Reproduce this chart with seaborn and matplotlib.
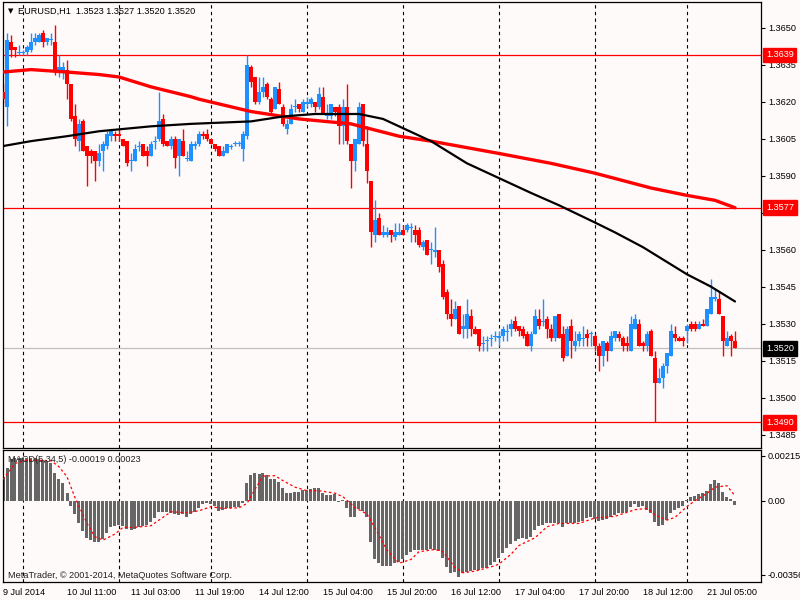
import numpy as np
import matplotlib
matplotlib.use("Agg")
import matplotlib.pyplot as plt
import matplotlib.transforms as mtransforms
import seaborn as sns


# ==========================================
# CHART DATA (EURUSD H1)
# ==========================================

open_prices = [
    1.3624, 1.3618, 1.3644, 1.3642, 1.3640, 1.3640, 1.3640, 1.3641, 1.3644, 1.3644,
    1.3648, 1.3644, 1.3645, 1.3644, 1.3632, 1.3632, 1.3633, 1.3627, 1.3614, 1.3604,
    1.3612, 1.3602, 1.3600, 1.3600, 1.3596, 1.3600, 1.3602, 1.3606, 1.3607, 1.3607,
    1.3605, 1.3604, 1.3596, 1.3596, 1.3602, 1.3603, 1.3600, 1.3598, 1.3604, 1.3605,
    1.3613, 1.3604, 1.3602, 1.3605, 1.3598, 1.3604, 1.3597, 1.3596, 1.3602, 1.3603,
    1.3607, 1.3607, 1.3605, 1.3603, 1.3602, 1.3598, 1.3599, 1.3602, 1.3603, 1.3603,
    1.3601, 1.3606, 1.3634, 1.3630, 1.3620, 1.3624, 1.3627, 1.3621, 1.3617, 1.3625,
    1.3618, 1.3609, 1.3611, 1.3618, 1.3619, 1.3616, 1.3619, 1.3619, 1.3620, 1.3618,
    1.3622, 1.3614, 1.3614, 1.3618, 1.3618, 1.3610, 1.3618, 1.3603, 1.3596, 1.3603,
    1.3619, 1.3603, 1.3588, 1.3566, 1.3573, 1.3566, 1.3566, 1.3568, 1.3565, 1.3566,
    1.3568, 1.3568, 1.3569, 1.3568, 1.3568, 1.3561, 1.3564, 1.3560, 1.3559, 1.3560,
    1.3554, 1.3543, 1.3534, 1.3532, 1.3537, 1.3528, 1.3528, 1.3533, 1.3528, 1.3528,
    1.3522, 1.3523, 1.3524, 1.3525, 1.3524, 1.3525, 1.3527, 1.3528, 1.3531, 1.3529,
    1.3528, 1.3526, 1.3521, 1.3526, 1.3532, 1.3531, 1.3532, 1.3528, 1.3524, 1.3534,
    1.3526, 1.3517, 1.3529, 1.3521, 1.3523, 1.3524, 1.3526, 1.3526, 1.3525, 1.3521,
    1.3517, 1.3522, 1.3519, 1.3524, 1.3526, 1.3524, 1.3522, 1.3519, 1.3528, 1.3530,
    1.3522, 1.3521, 1.3527, 1.3516, 1.3506, 1.3508, 1.3513, 1.3517, 1.3526, 1.3524,
    1.3524, 1.3527, 1.3530, 1.3530, 1.3528, 1.3530, 1.3529, 1.3534, 1.3540, 1.3540,
    1.3533, 1.3521, 1.3525, 1.3523,
]

high_prices = [
    1.3627, 1.3648, 1.3647, 1.3642, 1.3643, 1.3641, 1.3643, 1.3648, 1.3648, 1.3648,
    1.3649, 1.3646, 1.3648, 1.3651, 1.3639, 1.3636, 1.3637, 1.3627, 1.3619, 1.3613,
    1.3613, 1.3602, 1.3601, 1.3600, 1.3603, 1.3604, 1.3608, 1.3609, 1.3608, 1.3609,
    1.3605, 1.3604, 1.3599, 1.3603, 1.3604, 1.3603, 1.3602, 1.3604, 1.3606, 1.3624,
    1.3615, 1.3604, 1.3606, 1.3606, 1.3605, 1.3609, 1.3600, 1.3604, 1.3604, 1.3608,
    1.3608, 1.3609, 1.3605, 1.3603, 1.3602, 1.3602, 1.3603, 1.3603, 1.3604, 1.3604,
    1.3608, 1.3639, 1.3635, 1.3630, 1.3630, 1.3630, 1.3628, 1.3622, 1.3626, 1.3628,
    1.3619, 1.3613, 1.3619, 1.3621, 1.3619, 1.3621, 1.3622, 1.3622, 1.3620, 1.3626,
    1.3626, 1.3619, 1.3619, 1.3618, 1.3619, 1.3621, 1.3627, 1.3603, 1.3605, 1.3620,
    1.3619, 1.3610, 1.3588, 1.3580, 1.3575, 1.3570, 1.3569, 1.3568, 1.3571, 1.3571,
    1.3570, 1.3571, 1.3571, 1.3570, 1.3569, 1.3564, 1.3564, 1.3563, 1.3569, 1.3560,
    1.3556, 1.3544, 1.3540, 1.3539, 1.3537, 1.3534, 1.3540, 1.3536, 1.3529, 1.3528,
    1.3525, 1.3525, 1.3526, 1.3527, 1.3527, 1.3529, 1.3530, 1.3532, 1.3533, 1.3529,
    1.3529, 1.3527, 1.3527, 1.3536, 1.3536, 1.3540, 1.3533, 1.3530, 1.3533, 1.3534,
    1.3529, 1.3529, 1.3532, 1.3527, 1.3527, 1.3529, 1.3528, 1.3527, 1.3526, 1.3522,
    1.3523, 1.3523, 1.3527, 1.3527, 1.3527, 1.3525, 1.3525, 1.3533, 1.3534, 1.3532,
    1.3523, 1.3527, 1.3528, 1.3519, 1.3512, 1.3514, 1.3518, 1.3530, 1.3529, 1.3525,
    1.3525, 1.3530, 1.3531, 1.3531, 1.3531, 1.3532, 1.3536, 1.3548, 1.3544, 1.3543,
    1.3533, 1.3527, 1.3526, 1.3527,
]

low_prices = [
    1.3619, 1.3610, 1.3638, 1.3638, 1.3639, 1.3639, 1.3639, 1.3640, 1.3643, 1.3644,
    1.3642, 1.3643, 1.3643, 1.3631, 1.3630, 1.3629, 1.3621, 1.3612, 1.3602, 1.3600,
    1.3600, 1.3586, 1.3595, 1.3588, 1.3594, 1.3592, 1.3601, 1.3604, 1.3604, 1.3604,
    1.3602, 1.3594, 1.3592, 1.3596, 1.3600, 1.3598, 1.3594, 1.3598, 1.3601, 1.3604,
    1.3602, 1.3602, 1.3601, 1.3593, 1.3590, 1.3598, 1.3596, 1.3596, 1.3601, 1.3602,
    1.3605, 1.3604, 1.3603, 1.3600, 1.3598, 1.3598, 1.3599, 1.3601, 1.3602, 1.3602,
    1.3596, 1.3605, 1.3626, 1.3619, 1.3619, 1.3622, 1.3621, 1.3615, 1.3617, 1.3619,
    1.3610, 1.3607, 1.3611, 1.3616, 1.3616, 1.3616, 1.3618, 1.3618, 1.3616, 1.3617,
    1.3615, 1.3613, 1.3613, 1.3614, 1.3603, 1.3603, 1.3603, 1.3585, 1.3592, 1.3603,
    1.3602, 1.3587, 1.3561, 1.3563, 1.3566, 1.3565, 1.3565, 1.3563, 1.3564, 1.3566,
    1.3566, 1.3567, 1.3563, 1.3563, 1.3561, 1.3560, 1.3558, 1.3554, 1.3557, 1.3551,
    1.3540, 1.3532, 1.3529, 1.3532, 1.3526, 1.3524, 1.3524, 1.3525, 1.3526, 1.3519,
    1.3519, 1.3519, 1.3521, 1.3523, 1.3521, 1.3523, 1.3523, 1.3525, 1.3527, 1.3525,
    1.3524, 1.3521, 1.3519, 1.3526, 1.3528, 1.3529, 1.3524, 1.3523, 1.3523, 1.3524,
    1.3515, 1.3517, 1.3516, 1.3519, 1.3521, 1.3521, 1.3521, 1.3521, 1.3519, 1.3511,
    1.3513, 1.3515, 1.3519, 1.3523, 1.3523, 1.3519, 1.3519, 1.3519, 1.3528, 1.3521,
    1.3519, 1.3519, 1.3517, 1.3490, 1.3506, 1.3504, 1.3510, 1.3517, 1.3523, 1.3523,
    1.3521, 1.3522, 1.3527, 1.3527, 1.3528, 1.3529, 1.3529, 1.3534, 1.3539, 1.3534,
    1.3517, 1.3521, 1.3517, 1.3520,
]

close_prices = [
    1.3621, 1.3645, 1.3641, 1.3641, 1.3640, 1.3640, 1.3642, 1.3644, 1.3646, 1.3647,
    1.3644, 1.3646, 1.3645, 1.3632, 1.3634, 1.3634, 1.3627, 1.3613, 1.3605, 1.3611,
    1.3600, 1.3598, 1.3598, 1.3596, 1.3599, 1.3603, 1.3607, 1.3608, 1.3606, 1.3606,
    1.3602, 1.3595, 1.3596, 1.3601, 1.3602, 1.3598, 1.3598, 1.3603, 1.3604, 1.3612,
    1.3603, 1.3602, 1.3605, 1.3597, 1.3605, 1.3598, 1.3597, 1.3603, 1.3603, 1.3607,
    1.3606, 1.3605, 1.3603, 1.3601, 1.3598, 1.3600, 1.3603, 1.3602, 1.3603, 1.3603,
    1.3607, 1.3635, 1.3628, 1.3620, 1.3624, 1.3626, 1.3622, 1.3616, 1.3626, 1.3619,
    1.3611, 1.3611, 1.3617, 1.3618, 1.3617, 1.3620, 1.3620, 1.3621, 1.3618, 1.3623,
    1.3615, 1.3615, 1.3619, 1.3616, 1.3610, 1.3618, 1.3604, 1.3596, 1.3605, 1.3618,
    1.3604, 1.3592, 1.3567, 1.3572, 1.3566, 1.3567, 1.3567, 1.3566, 1.3567, 1.3567,
    1.3566, 1.3570, 1.3569, 1.3566, 1.3562, 1.3563, 1.3558, 1.3560, 1.3560, 1.3553,
    1.3541, 1.3534, 1.3532, 1.3536, 1.3526, 1.3529, 1.3534, 1.3528, 1.3526, 1.3521,
    1.3522, 1.3523, 1.3524, 1.3525, 1.3525, 1.3528, 1.3527, 1.3530, 1.3528, 1.3527,
    1.3525, 1.3521, 1.3526, 1.3533, 1.3529, 1.3531, 1.3528, 1.3524, 1.3533, 1.3524,
    1.3516, 1.3528, 1.3523, 1.3523, 1.3526, 1.3524, 1.3524, 1.3526, 1.3521, 1.3517,
    1.3523, 1.3519, 1.3525, 1.3527, 1.3524, 1.3521, 1.3521, 1.3530, 1.3532, 1.3521,
    1.3521, 1.3526, 1.3517, 1.3506, 1.3508, 1.3513, 1.3518, 1.3527, 1.3524, 1.3523,
    1.3523, 1.3529, 1.3528, 1.3528, 1.3530, 1.3529, 1.3536, 1.3541, 1.3541, 1.3534,
    1.3523, 1.3524, 1.3523, 1.3520,
]

# moving averages, read at a few bars
ma_slow_bars = [0, 7, 16, 24, 29, 37, 47, 49, 62, 74, 87, 99, 107, 124, 137, 148, 162, 171, 178, 183]
ma_slow_values = [1.3632, 1.3633, 1.3632, 1.3631, 1.3630, 1.3626, 1.3622, 1.3621, 1.3616, 1.3613,
                  1.3611, 1.3606, 1.3604, 1.3599, 1.3595, 1.3591, 1.3585, 1.3582, 1.3580, 1.3577]

ma_fast_bars = [0, 7, 16, 24, 37, 47, 62, 70, 78, 89, 95, 99, 107, 116, 124, 132, 139, 148,
                153, 160, 166, 171, 177, 183]
ma_fast_values = [1.3602, 1.3604, 1.3606, 1.3608, 1.3610, 1.3611, 1.3612, 1.3614, 1.3615, 1.3615,
                  1.3613, 1.3610, 1.3604, 1.3595, 1.3589, 1.3583, 1.3578, 1.3571, 1.3567, 1.3561,
                  1.3555, 1.3550, 1.3545, 1.3539]

# MACD(5,34,5) histogram, in units of 1e-5
macd_hist_e5 = [
    115, 155, 198, 203, 203, 203, 203, 203, 203, 200,
    195, 192, 182, 131, 104, 86, 38, -26, -64, -106,
    -144, -178, -189, -200, -197, -186, -157, -128, -122, -117,
    -122, -138, -141, -136, -128, -122, -117, -101, -85, -53,
    -53, -56, -58, -64, -69, -64, -77, -64, -53, -37,
    -18, -13, -16, -24, -48, -45, -37, -34, -29, -29,
    -13, 83, 123, 131, 128, 131, 123, 104, 102, 91,
    59, 38, 38, 40, 43, 51, 51, 54, 59, 59,
    38, 27, 27, 32, -5, 3, -34, -77, -77, -42,
    -48, -77, -197, -282, -298, -314, -314, -314, -301, -296,
    -282, -261, -245, -237, -237, -237, -237, -234, -237, -242,
    -277, -317, -346, -341, -365, -349, -341, -338, -333, -333,
    -325, -325, -309, -293, -277, -250, -229, -210, -192, -186,
    -181, -186, -173, -141, -122, -117, -109, -106, -106, -106,
    -128, -109, -106, -106, -101, -96, -85, -80, -90, -96,
    -93, -90, -80, -69, -58, -58, -53, -29, -16, -29,
    -26, -45, -61, -101, -122, -117, -93, -58, -45, -37,
    -26, 3, 19, 22, 32, 38, 48, 80, 99, 86,
    43, 16, 6, -19,
]

signal_bars = [0, 3, 6, 12, 14, 16, 18, 21, 23, 25, 28, 30, 33, 37, 39, 42, 46, 49, 52, 55,
               59, 61, 63, 65, 68, 70, 73, 76, 79, 83, 85, 88, 91, 93, 96, 99, 102, 104, 108, 110,
               113, 115, 118, 123, 124, 127, 129, 133, 136, 139, 144, 148, 153, 158, 161, 163, 166,
               168, 171, 173, 176, 178, 181, 183]
signal_e5 = [102, 179, 195, 192, 163, 115, 15, -109, -173, -189, -160, -128, -128, -120, -93, -53,
             -58, -48, -29, -37, -34, -13, 55, 118, 120, 96, 65, 48, 48, 36, 19, -33, -64, -130,
             -237, -300, -282, -245, -234, -245, -320, -346, -338, -312, -304, -257, -215, -178,
             -125, -109, -109, -83, -75, -43, -37, -69, -93, -80, -28, 0, 35, 65, 72, 23]

day_separators = [5, 29, 52, 76, 100, 124, 148, 171]

time_tick_bars = [0, 16, 32, 48, 64, 80, 96, 112, 128, 144, 160, 176]
time_tick_labels = ["9 Jul 2014", "10 Jul 11:00", "11 Jul 03:00", "11 Jul 19:00",
                    "14 Jul 12:00", "15 Jul 04:00", "15 Jul 20:00", "16 Jul 12:00",
                    "17 Jul 04:00", "17 Jul 20:00", "18 Jul 12:00", "21 Jul 05:00"]

price_ticks = [1.3485, 1.3500, 1.3515, 1.3530, 1.3545, 1.3560,
               1.3575, 1.3590, 1.3605, 1.3620, 1.3635, 1.3650]

red_levels = [1.3639, 1.3577, 1.3490]
bid_level = 1.3520

macd_ticks = [0.00215, 0.0, -0.00356]
macd_tick_labels = ["0.00215", "0.00", "-0.00356"]


# ==========================================
# STYLE
# ==========================================

sns.set_theme(style="white")
plt.rcParams["font.family"] = ["Liberation Sans", "DejaVu Sans"]

BACKGROUND = "#FFFAFA"
BULL = "#1E90FF"
BEAR = "#FF0000"
FONT_SIZE = 6.6

W, H = 800, 600


def pixel_rect(x0, y0, x1, y1):
    return [x0 / W, 1 - y1 / H, (x1 - x0) / W, (y1 - y0) / H]


fig = plt.figure(figsize=(8, 6), dpi=100, facecolor=BACKGROUND)

price_ax = fig.add_axes(pixel_rect(2.5, 2, 761, 448))
macd_ax = fig.add_axes(pixel_rect(2.5, 450, 761, 582))

for axis in (price_ax, macd_ax):
    axis.set_facecolor(BACKGROUND)
    axis.set_xlim(-0.125, 189.5)
    for spine in axis.spines.values():
        spine.set_color("black")
        spine.set_linewidth(0.9)
    for sep in day_separators:
        axis.axvline(sep, color="black", linewidth=0.8, linestyle=(0, (3, 3)), zorder=1)


# ==========================================
# PRICE PANEL
# ==========================================

opens = np.array(open_prices)
highs = np.array(high_prices)
lows = np.array(low_prices)
closes = np.array(close_prices)
bars = np.arange(len(closes))

candle_colors = np.where(closes >= opens, BULL, BEAR)
doji = np.abs(closes - opens) < 0.00003
body_bottom = np.where(doji, opens - 0.00002, np.minimum(opens, closes))
body_height = np.where(doji, 0.00004, np.abs(closes - opens))

price_ax.vlines(bars, lows, highs, colors=candle_colors, linewidth=1.0, zorder=2)
price_ax.bar(bars, body_height, bottom=body_bottom, width=0.76,
             color=candle_colors, linewidth=0, antialiased=False, zorder=3)

for level in red_levels:
    price_ax.axhline(level, color=BEAR, linewidth=0.9, zorder=1.5)
price_ax.axhline(bid_level, color="#C0C0C0", linewidth=0.9, zorder=1.5)

sns.lineplot(x=ma_slow_bars, y=ma_slow_values, ax=price_ax,
             color="#FF0000", linewidth=2.4, zorder=4)
sns.lineplot(x=ma_fast_bars, y=ma_fast_values, ax=price_ax,
             color="black", linewidth=1.6, zorder=4)

price_ax.set_ylim(1.34796, 1.36604)
price_ax.set_xticks([])
price_ax.set_xlabel("")
price_ax.set_ylabel("")
price_ax.yaxis.tick_right()
price_ax.set_yticks(price_ticks)
price_ax.set_yticklabels([f"{p:.4f}" for p in price_ticks])
price_ax.tick_params(axis="y", direction="out", length=3, width=0.8,
                     color="black", labelsize=FONT_SIZE, pad=2, labelcolor="black")

label_transform = mtransforms.blended_transform_factory(price_ax.transAxes, price_ax.transData)
for level, face in [(1.3639, BEAR), (1.3577, BEAR), (1.3490, BEAR), (bid_level, "black")]:
    price_ax.annotate(f"{level:.4f}", xy=(1.0, level), xycoords=label_transform,
                      xytext=(3.5, 0), textcoords="offset points",
                      ha="left", va="center", color="white", fontsize=FONT_SIZE,
                      annotation_clip=False, zorder=10,
                      bbox=dict(boxstyle="square,pad=0.3", fc=face, ec=face))

fig.text(8 / W, 1 - 11 / H, "\u25BC", fontsize=5, color="black",
         va="center", ha="left", family=["DejaVu Sans"])
fig.text(18 / W, 1 - 11 / H, "EURUSD,H1  1.3523 1.3527 1.3520 1.3520",
         fontsize=FONT_SIZE, color="black", va="center", ha="left")


# ==========================================
# MACD PANEL
# ==========================================

macd_values = np.array(macd_hist_e5) * 1e-5
signal_values = np.array(signal_e5) * 1e-5

macd_ax.bar(bars, macd_values, width=0.75, color="#666666", linewidth=0, zorder=2)
sns.lineplot(x=signal_bars, y=signal_values, ax=macd_ax, color="#FF0000",
             linewidth=0.9, linestyle=(0, (2, 2)), zorder=3)

macd_ax.set_ylim(-0.003902, 0.002434)
macd_ax.set_ylabel("")
macd_ax.yaxis.tick_right()
macd_ax.set_yticks(macd_ticks)
macd_ax.set_yticklabels(macd_tick_labels)
macd_ax.tick_params(axis="y", direction="out", length=3, width=0.8,
                    color="black", labelsize=FONT_SIZE, pad=2, labelcolor="black")

macd_ax.set_xticks(time_tick_bars)
macd_ax.set_xticklabels(time_tick_labels)
macd_ax.set_xlabel("")
macd_ax.tick_params(axis="x", direction="out", length=3, width=0.8,
                    color="black", labelsize=FONT_SIZE, pad=1.5, labelcolor="black")
for tick_label in macd_ax.get_xticklabels():
    tick_label.set_horizontalalignment("left")

macd_ax.text(6 / 758.5, 1 - 9 / 132, "MACD(5,34,5) -0.00019 0.00023",
             transform=macd_ax.transAxes, fontsize=FONT_SIZE, color="#202020",
             ha="left", va="center", zorder=5)
macd_ax.text(6 / 758.5, 1 - 125 / 132, "MetaTrader, \u00A9 2001-2014, MetaQuotes Software Corp.",
             transform=macd_ax.transAxes, fontsize=FONT_SIZE, color="#202020",
             ha="left", va="center", zorder=5)

fig.savefig("out.png", dpi=100, facecolor=BACKGROUND)
